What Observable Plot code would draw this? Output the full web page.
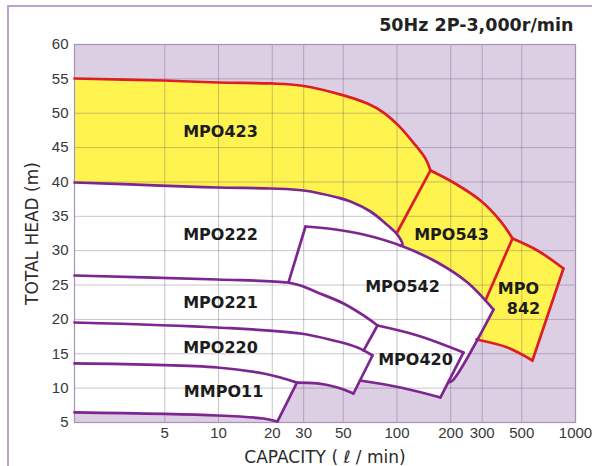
<!DOCTYPE html>
<html><head><meta charset="utf-8">
<script src="https://cdn.jsdelivr.net/npm/d3@7"></script>
<script src="https://cdn.jsdelivr.net/npm/@observablehq/plot@0.6"></script>
<style>
html,body{margin:0;padding:0;background:#fff;}
</style></head><body>
<div id="wrap"></div>
<script>
const xTicks = [5, 10, 20, 30, 50, 100, 200, 300, 500, 1000];
const yTicks = [5, 10, 15, 20, 25, 30, 35, 40, 45, 50, 55, 60];

// curves: [capacity (l/min), total head (m)]
const mpo423Top = [[1.56,55.05],[4.92,54.76],[10,54.47],[19.56,54.33],[28.8,54.03],[50.15,52.6],[68.3,51.4],[84,50.1],[102,48.2],[123.7,45.7],[144.4,43.4],[154,41.67]];
const mpo543Top = [[154,41.67],[207,39.92],[293.6,37.3],[380,34.3],[443.6,31.77]];
const mpo842Top = [[443.6,31.77],[612,30.03],[856,27.41]];
const mpo842Right = [[856,27.41],[574,14.02]];
const mpo842Bottom = [[574,14.02],[415.9,15.91],[279,17.08]];
const sep423 = [[154,41.67],[99.4,32.5]];
const sep543 = [[443.6,31.77],[313,22.75]];

const mpo222Top = [[1.56,39.92],[4.73,39.48],[9.87,39.19],[19.56,39.05],[29.94,38.76],[46.41,37.74],[54.88,37.16],[71.04,35.7],[86.2,33.96],[98.1,32.65],[104.6,31.63],[107.3,30.9],[104.6,30.7]];
const mpo542Left = [[24.67,25.4],[30.72,33.52]];
const mpo542Top = [[30.72,33.52],[45.22,33.08],[64.93,32.36],[104.6,30.75],[168.6,28.28],[248.3,25.37],[347.2,21.44]];
const mpo542Right = [[347.2,21.44],[204.6,11.11],[193.6,10.82]];
const mpo221Top = [[1.56,26.39],[9.87,25.81],[24.35,25.37],[28.8,24.93],[35.86,23.92],[50.15,22.32],[64.93,20.57],[77.75,19.11]];
const mpo221Right = [[77.75,19.11],[64.93,15.45]];
const mpo420Top = [[77.75,19.11],[130.3,17.66],[235.8,15.19]];
const mpo420Right = [[235.8,15.19],[175.2,8.64]];
const mpo420Bottom = [[175.2,8.64],[104.6,10.09],[62,11.11]];
const mpo220Top = [[1.56,19.55],[9.87,18.82],[28.8,17.95],[44.08,16.93],[60.07,15.91],[72.9,14.75]];
const mpo220Right = [[72.9,14.75],[57.05,9.22]];
const mmpo11Top = [[1.56,13.59],[9.87,13.0],[17.87,12.13],[22.25,11.55],[27.5,10.8]];
const mpo220Bottom = [[27.5,10.8],[35.86,10.68],[46.41,10.09],[57.05,9.22]];
const mmpo11Right = [[27.5,10.8],[21.41,5.15]];
const mmpo11Bottom = [[21.41,5.15],[17.87,5.58],[9.87,6.02],[1.56,6.46]];

const labelNames = ["MPO423","MPO222","MPO221","MPO220","MMPO11","MPO543","MPO542","MPO420","MPO","842"];
const labelX = [10.26,10.26,10.26,10.26,10.67,202,107.3,126.9,479,511];
const labelY = [47.34,32.36,22.46,15.91,9.51,32.36,24.79,14.17,24.5,21.59];

const rev = a => a.slice().reverse();
const yellowArea = [
  ...mpo423Top, ...mpo543Top.slice(1), ...mpo842Top.slice(1), ...mpo842Right.slice(1),
  ...mpo842Bottom.slice(1), ...rev(mpo542Top), ...rev(mpo542Left).slice(1),
  ...rev(mpo221Top).filter(p => p[0] < 24.5)
];
const whiteArea = [
  ...mpo222Top, ...mpo542Top.filter(p => p[0] > 110), ...mpo542Right.slice(1),
  ...mpo420Right.slice(1), ...mpo420Bottom.slice(1), ...mpo220Right.slice(1),
  ...rev(mpo220Bottom).slice(1), ...mmpo11Right.slice(1), ...mmpo11Bottom.slice(1)
];
const labels = labelNames.map((n, i) => ({name: n, x: labelX[i], y: labelY[i]}));

const RED = "#dc1f26", PURPLE = "#7d2590", YELLOW = "#fff34f", LAV = "#dccfe4";
const X = d => d[0], Y = d => d[1];
const stroke = (arr, color) => Plot.line(arr, {x: X, y: Y, stroke: color, strokeWidth: 2.7,
  curve: "catmull-rom", strokeLinecap: "round", strokeLinejoin: "round"});

const redLines = [mpo423Top, mpo543Top, mpo842Top, mpo842Right, mpo842Bottom, sep423, sep543];
const purpleLines = [mpo222Top, mpo542Left, mpo542Top, mpo542Right, mpo221Top, mpo221Right,
  mpo420Top, mpo420Right, mpo420Bottom, mpo220Top, mpo220Right, mmpo11Top, mpo220Bottom,
  mmpo11Right, mmpo11Bottom];

const chart = Plot.plot({
  width: 598, height: 466,
  marginLeft: 74, marginRight: 23, marginTop: 44, marginBottom: 44,
  style: {fontFamily: "'Liberation Sans', Arial, sans-serif", fontSize: "15px", color: "#333", background: "white", overflow: "visible"},
  x: {type: "log", domain: [1.56, 1000], axis: null},
  y: {domain: [5, 60]},
  marks: [
    Plot.frame({fill: LAV}),
    Plot.line(yellowArea, {x: X, y: Y, fill: YELLOW, stroke: "none"}),
    Plot.line(whiteArea, {x: X, y: Y, fill: "white", stroke: "none"}),
    Plot.ruleX(xTicks.filter(v => v < 1000), {stroke: "#5e4a6a", strokeOpacity: 0.33, strokeWidth: 1}),
    Plot.ruleY(yTicks.filter(v => v > 5 && v < 60), {stroke: "#5e4a6a", strokeOpacity: 0.33, strokeWidth: 1}),
    Plot.frame({stroke: "#a893b6", strokeWidth: 1.2}),
    ...redLines.map(a => stroke(a, RED)),
    ...purpleLines.map(a => stroke(a, PURPLE)),
    Plot.text(labels, {x: "x", y: "y", text: "name", fontFamily: "'DejaVu Sans', sans-serif",
      fontWeight: "bold", fontSize: 16, fill: "#1c1c1c"}),
    Plot.text(xTicks, {x: d => d, text: d => String(d), frameAnchor: "bottom", lineAnchor: "top", dy: 5,
      fontSize: 15, fill: "#383838"}),
    Plot.axisY({ticks: yTicks, tickSize: 0, tickPadding: 6, label: null, fill: "#383838"}),
    Plot.text(["50Hz 2P-3,000r/min"], {frameAnchor: "top-right", lineAnchor: "middle", dy: -19, dx: -2,
      fontFamily: "'DejaVu Sans', sans-serif", fontWeight: "bold", fontSize: 17.5, fill: "#222"}),
    Plot.text(["TOTAL HEAD (m)"], {frameAnchor: "left", rotate: -90, textAnchor: "middle", lineAnchor: "middle",
      dx: -42, fontFamily: "'DejaVu Sans', sans-serif", fontSize: 17, fill: "#2a2a2a"}),
    Plot.text(["CAPACITY ( ℓ / min)"], {frameAnchor: "bottom", lineAnchor: "middle", dy: 35,
      fontFamily: "'DejaVu Sans', sans-serif", fontSize: 17, fill: "#2a2a2a"})
  ]
});
// decorative page border of the original figure (top and left edges)
const svgNS = "http://www.w3.org/2000/svg";
const borderPath = document.createElementNS(svgNS, "path");
borderPath.setAttribute("d", "M8,466L8,6L592,6");
borderPath.setAttribute("fill", "none");
borderPath.setAttribute("stroke", "#b9a2cc");
borderPath.setAttribute("stroke-width", "2");
chart.appendChild(borderPath);
document.getElementById("wrap").appendChild(chart);
</script>
</body></html>
